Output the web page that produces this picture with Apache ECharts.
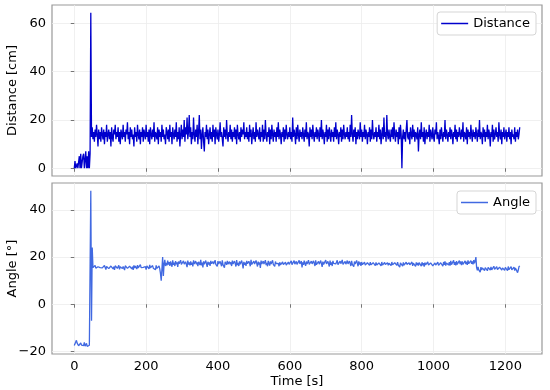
<!DOCTYPE html>
<html><head><meta charset="utf-8">
<script src="https://cdn.jsdelivr.net/npm/echarts@6/dist/echarts.min.js"></script>
<style>html,body{margin:0;padding:0;background:#fff}#c{width:550px;height:390px}</style>
</head><body><div id="c"></div>
<script>
// sample spacing of the recording [s]
const sampleStep = 2;
const timeTicks = [0, 200, 400, 600, 800, 1000, 1200];
const distanceTicks = [0, 20, 40, 60];
const angleTicks = [-20, 0, 20, 40];

const distance = [
0,3,0,0,2,0,0,5,0,6, 0,0,5,6,0,0,7,0,5,0,
7,0,6,64.4,13,17,12,15,11,16, 13,18,14,9,16,12,15,11,17,14,
12,16,10,15,13,18,11,14,16,12, 15,9,17,13,11,16,14,18,12,15,
13,17,11,15,10,16,14,12,18,13, 15,11,16,14,19,12,15,10,17,13,
16,12,14,9,17,13,15,11,18,14, 12,16,10,15,13,17,11,16,14,12,
18,13,15,11,16,10,17,14,12,16, 13,19,11,15,14,12,17,10,16,13,
15,11,18,13,16,12,14,10,17,15, 12,16,11,18,13,15,10,17,14,12,
16,13,19,11,15,12,17,9,14,18, 12,16,13,20,11,17,14,21,12,15,
22,13,17,10,15,12,21,14,11,16, 13,18,10,15,22,12,16,8,14,17,
11,7,15,13,18,12,16,10,14,17, 12,15,11,18,13,16,10,17,14,12,
16,11,14,19,13,15,12,9,17,13, 16,12,20,14,11,15,13,18,12,16,
11,15,13,17,12,16,10,18,14,12, 15,11,17,13,16,14,19,12,15,13,
17,12,15,11,18,13,16,10,14,17, 12,15,11,19,13,16,14,12,17,11,
15,13,18,11,16,12,20,14,11,15, 13,17,10,16,12,18,14,11,16,13,
15,11,17,13,19,12,16,14,10,15, 13,17,11,16,12,18,14,12,15,13,
17,12,15,11,21,13,16,14,10,17, 12,18,14,11,16,13,15,12,17,14,
11,16,13,19,12,15,14,9,17,13, 16,12,18,14,11,15,13,17,12,16,
14,11,17,13,20,12,16,14,10,15, 13,18,11,16,12,17,14,11,16,13,
15,11,17,13,19,12,16,14,10,15, 13,17,11,16,12,18,14,12,15,13,
17,12,15,11,18,13,22,14,11,16, 13,17,10,15,12,16,14,12,19,13,
16,11,15,13,18,12,16,14,10,15, 13,17,11,16,12,20,14,12,15,13,
17,11,15,13,18,12,16,10,14,17, 12,21,13,15,11,22,14,12,16,13,
11,16,13,17,12,19,14,11,16,13, 15,10,17,12,18,14,0,13,16,12,
15,11,16,20,13,12,15,10,17,14, 12,18,13,16,11,15,14,12,17,7,
14,16,12,19,13,15,11,17,10,14, 16,12,15,13,18,11,16,14,12,17,
13,11,16,14,19,12,15,13,10,16, 12,17,14,11,15,13,20,12,16,14,
11,15,13,17,12,16,14,10,15,13, 18,12,16,11,15,13,17,14,12,16,
13,19,11,15,14,12,17,10,16,13, 15,12,18,14,11,16,13,15,12,17,
14,11,16,13,20,12,15,14,10,17, 13,16,11,15,13,18,12,16,14,9,
15,13,18,11,16,12,14,17,13,15, 11,19,14,12,16,10,15,13,17,12,
14,16,11,15,13,17,12,15,10,16, 13,14,12,17,11,15,13,16,12,14,
17
];

const angle = [
-17.5,-17.8,-16.9,-15.3,-16.5,-17.2,-17.6,-16.8,-17.9,-16.4, -17.3,-17.7,-16.9,-17.5,-16.2,-17.8,-17.1,-16.6,-17.9,-17.2,
-17.6,-17.4,-16.8,48.1,-7,24,15.5,16.2,15,16.5, 15.3,16,14.8,15.9,15.2,16.6,15.5,14.9,16.3,15.4,
16.1,15,16.4,15.6,14.7,16,15.3,16.8,15.1,15.8, 14.9,16.2,15.4,16.7,15,15.9,14.6,16.3,15.5,16,
15.2,15.7,16.5,14.8,15.9,15.3,16.6,15.1,16,15.4, 14.5,16.3,15.6,16.9,15.2,15.8,14.7,16.1,15.5,16.4,
15,15.9,14.6,16.5,15.3,16.2,15.7,14.9,16.6,15.4, 16,15.1,16.8,15.5,14.8,16.2,15.6,16.4,15.2,15.9,
14.7,16.3,15.5,16.1,15,16.7,15.4,15.8,14.9,16.4, 15.3,16,15.6,14.6,16.5,15.2,15.9,15.4,16.2,15,
13,10,15,20,12,17,18.8,16.2,17.5,16.5, 18.5,16.8,17.8,16.3,18.2,17,15.9,18.6,16.7,17.6,
16.2,18.3,16.9,17.8,15.8,18.1,17.2,16.4,18.7,16.9, 17.5,16.1,18.4,17,16.3,18,17.4,15.7,18.5,16.8,
17.7,16.5,18.2,16.7,17.6,16,18.6,17.1,16.4,18.3, 16.9,17.8,16.2,18,17.3,16.6,18.8,16.5,17.6,15.6,
18.2,17,16.4,18.5,17.1,15.8,18,16.8,17.7,16.3, 18.4,17.2,16.6,18.1,17,16.2,18.7,16.9,17.5,16,
18.3,17.1,16.5,18.2,17.4,16.1,18.6,16.8,17.3,15.5, 18,17.2,16.7,18.4,17,16.3,18.1,16.9,17.8,16.2,
18.5,17.1,16.4,18.3,17.2,16,18.7,16.6,17.5,16.2, 18.2,17,16.8,18.5,17.1,15.2,18,16.7,17.6,16.3,
18.4,17.2,16.6,18.2,17.3,16.1,18.8,16.9,17.4,16.2, 18.3,17,16.5,18.6,17.2,16,18.1,16.8,17.7,15.4,
18.5,17.1,16.7,18.3,17,16.2,18.7,16.6,17.5,16.1, 18.4,17.3,16.4,18.2,17.1,16.3,18.6,16.9,17.6,16,
18.1,17.2,16.6,18,17.3,16.1,17.8,16.7,17.5,16.4, 17.9,16.8,17.2,16.3,17.8,16.6,17.4,16.2,17.9,16.9,
17.3,16.5,18.4,16.8,17.6,16.1,18.5,17,16.4,18.2, 16.9,17.7,16.2,18.6,17.1,16.5,18.3,15.6,17.8,16.7,
18.5,17.2,16.3,18.1,17,16.6,18.7,16.9,17.4,16.1, 18.3,17.1,16.5,18.4,17.3,16.2,18.6,16.8,17.5,16.3,
18.2,17,16.7,18.5,17.2,15.8,18.1,16.9,17.6,16.4, 18.7,17.1,16.3,18.2,17.4,16,18.5,16.7,17.8,16.2,
18.4,17.3,16.5,18,17.1,16.3,18.6,16.8,17.4,16, 18.3,17.2,16.6,18.8,16.9,17.5,16.1,18.2,17,16.4,
18.5,17.1,16.7,18.3,17.2,16.2,18.4,16.9,17.6,15.9, 18.1,17,16.5,18.6,17.3,16.1,18.2,16.8,17.7,16.3,
17.9,16.8,17.3,16.4,17.8,16.6,17.2,16.2,17.6,16.9, 17.4,16.5,17.8,16.7,17.3,16.1,17.6,16.8,17.2,16.4,
17.7,16.6,17.4,15.8,17.5,16.9,17.1,16.3,17.9,16.6, 17.2,16.4,17.7,16.8,17.3,16,17.6,16.5,17.4,16.7,
17.5,16.4,17.9,16.7,17.2,16.1,17.6,16.9,17.3,16.5, 17.8,16.6,17.1,15.7,17.5,16.8,17.4,16.2,17.7,16.6,
17.2,16.4,17.8,16.9,17.3,16.1,17.6,16.7,17.1,16.5, 17.9,16.3,17.4,16.8,17.2,16,17.7,16.6,17.5,16.4,
17.6,16.8,17.1,16.2,17.8,16.5,17.4,15.9,17.7,16.7, 17.3,16.4,17.9,16.6,17.2,16.1,17.5,16.9,17.4,16.3,
17.1,16.2,17.5,16.6,17.3,15.9,17.8,16.5,17,16.3, 17.6,16.8,17.2,16.1,17.9,16.7,18.2,16.4,17.5,16.9,
18.1,16.6,17.8,16.4,18.4,16.8,17.5,16.3,18.6,16.7, 17.9,16.5,18.3,16.9,17.6,16.4,18.5,17,18.1,16.6,
18.2,16.9,17.7,16.5,18.4,17,18,16.7,18.6,17.2, 17.8,16.8,18.5,17.1,18.2,16.9,18.7,17.3,18.4,20,
15.5,14.4,15.8,14.6,15.2,13.6,15.7,14.5,15.4,14.8, 15.9,14.3,15.5,14.7,16,14.2,15.6,14.9,15.3,14.5,
15.8,14.6,15.4,14.4,16.1,14.8,15.5,14.3,15.9,14.7, 15.2,14.1,15.7,14.9,16.2,14.5,15.4,14.6,15.8,14.4,
15.6,14.8,15.3,14.2,16,14.7,15.5,14.4,15.9,14.6, 15.2,14.9,15.7,14.3,15.4,14.8,15.1,13.4,14.5,15.9,
16.3
];

const distData = distance.map((v, i) => [i * sampleStep, v]);
const angleData = angle.map((v, i) => [i * sampleStep, v]);

const FONT = 'DejaVu Sans';
const plain = v => String(v).replace('-', '\u2212');
const gridLine = { show: true, lineStyle: { color: '#ececec', width: 0.8 } };
const tick = { show: true, length: 3.5, lineStyle: { color: '#555', width: 0.8 } };

const xBase = (idx, showLabels) => ({
  type: 'value', gridIndex: idx, min: -62, max: 1302,
  axisLine: { show: false },
  axisTick: Object.assign({ customValues: timeTicks }, tick),
  axisLabel: { show: showLabels, customValues: timeTicks, fontFamily: FONT, fontSize: 13, color: '#000', margin: 6, formatter: plain },
  splitLine: Object.assign({ customValues: timeTicks }, gridLine),
  name: showLabels ? 'Time [s]' : '', nameLocation: 'middle', nameGap: 21, nameMoveOverlap: false,
  nameTextStyle: { fontFamily: FONT, fontSize: 13, color: '#000' }
});
const yBase = (idx, min, max, ticks, name) => ({
  type: 'value', gridIndex: idx, min, max,
  axisLine: { show: false },
  axisTick: Object.assign({ customValues: ticks }, tick),
  axisLabel: { customValues: ticks, fontFamily: FONT, fontSize: 13, color: '#000', margin: 6, formatter: plain },
  splitLine: Object.assign({ customValues: ticks }, gridLine),
  name, nameLocation: 'middle', nameGap: 33, nameMoveOverlap: false,
  nameTextStyle: { fontFamily: FONT, fontSize: 13, color: '#000' }
});

const legendBase = {
  orient: 'vertical', icon: 'rect', itemWidth: 27, itemHeight: 1.5, itemGap: 6,
  padding: [5, 6, 5, 4], borderColor: '#d5d5d5', borderWidth: 1, borderRadius: 3,
  backgroundColor: '#fff',
  textStyle: { fontFamily: FONT, fontSize: 13, color: '#000' }
};

const chart = echarts.init(document.getElementById('c'), null, { renderer: 'canvas' });
chart.setOption({
  animation: false,
  backgroundColor: '#fff',
  grid: [
    { left: 52, top: 5, width: 490, height: 171, show: true, borderColor: '#999', borderWidth: 1.2, backgroundColor: 'transparent', containLabel: false, outerBoundsMode: 'none' },
    { left: 52, top: 183, width: 490, height: 171, show: true, borderColor: '#999', borderWidth: 1.2, backgroundColor: 'transparent', containLabel: false, outerBoundsMode: 'none' }
  ],
  xAxis: [xBase(0, false), xBase(1, true)],
  yAxis: [
    yBase(0, -3.2, 67.6, distanceTicks, 'Distance [cm]'),
    yBase(1, -21.1, 51.4, angleTicks, 'Angle [°]')
  ],
  legend: [
    Object.assign({ data: ['Distance'], right: 14, top: 12 }, legendBase),
    Object.assign({ data: ['Angle'], right: 14, top: 191 }, legendBase)
  ],
  series: [
    { name: 'Distance', type: 'line', xAxisIndex: 0, yAxisIndex: 0, data: distData, symbol: 'none',
      lineStyle: { color: '#0000CD', width: 1.3 }, itemStyle: { color: '#0000CD' } },
    { name: 'Angle', type: 'line', xAxisIndex: 1, yAxisIndex: 1, data: angleData, symbol: 'none',
      lineStyle: { color: '#4169E1', width: 1.3 }, itemStyle: { color: '#4169E1' } }
  ]
});
</script></body></html>
